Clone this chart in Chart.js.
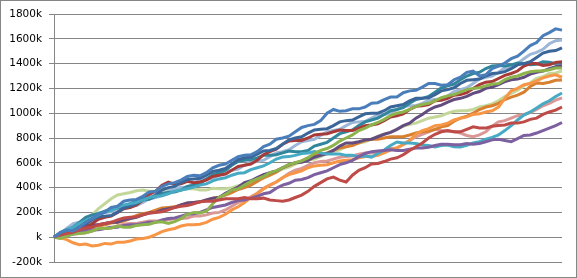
<!DOCTYPE html>
<html><head><meta charset="utf-8">
<script src="https://cdn.jsdelivr.net/npm/chart.js@4/dist/chart.umd.min.js"></script>
<style>html,body{margin:0;padding:0;background:#fff}#wrap{width:577px;height:278px;position:relative}</style>
</head><body><div id="wrap"><canvas id="c"></canvas></div>
<script>
const steps = Array.from({length:81},(_,i)=>String(i));
const yTicks = [-200,0,200,400,600,800,1000,1200,1400,1600,1800];
const blue = [0,35, 55,50, 80,120, 150,185, 200,240, 250,290, 300,305, 330,365, 370,410, 430,440,
 460,490, 500,495, 520,560, 580,590, 620,650, 660,665, 690,730, 750,790, 800,815, 850,885,
 900,910, 940,1000, 1030,1015, 1020,1035, 1035,1050, 1080,1085, 1110,1130, 1130,1165, 1180,1185, 1210,1240,
 1240,1225, 1230,1270, 1290,1330, 1340,1300, 1310,1360, 1380,1405, 1440,1460, 1500,1545, 1570,1625, 1650,1680, 1670];
const lightBlue = [0,30, 70,110, 120,135, 170,195, 200,205, 225,250, 250,255, 280,310, 320,335, 370,395,
 400,405, 430,460, 470,475, 500,530, 540,550, 580,605, 610,620, 650,680, 690,705, 740,770,
 780,790, 820,850, 860,870, 900,925, 930,935, 960,985, 990,1000, 1030,1055, 1060,1060, 1080,1105,
 1110,1115, 1140,1175, 1190,1205, 1240,1275, 1290,1300, 1330,1365, 1380,1400, 1440,1475, 1490,1515, 1560,1585, 1590];
const darkBlue = [0,10, 40,75, 90,105, 140,165, 170,175, 200,235, 250,270, 310,315, 340,380, 400,410,
 440,465, 470,475, 500,530, 540,555, 590,625, 640,645, 670,695, 700,715, 750,785, 800,810,
 840,865, 870,875, 900,930, 940,945, 970,995, 1000,1000, 1020,1050, 1060,1070, 1100,1120, 1120,1125,
 1150,1180, 1190,1205, 1240,1265, 1270,1275, 1300,1320, 1325,1335, 1360,1390, 1400,1415, 1450,1485, 1500,1505, 1527];
const darkRed = [0,-5, 20,50, 60,75, 110,145, 160,170, 200,230, 240,260, 300,345, 370,420, 445,425,
 430,450, 440,445, 460,490, 500,510, 540,570, 580,590, 620,665, 690,710, 750,775, 780,780,
 800,825, 830,835, 850,865, 860,860, 880,900, 905,915, 940,970, 980,995, 1030,1055, 1060,1070,
 1100,1105, 1120,1145, 1150,1165, 1200,1230, 1250,1255, 1280,1305, 1320,1340, 1380,1400, 1400,1385, 1390,1410, 1414];
const teal = [0,40, 60,80, 120,160, 180,190, 210,230, 235,245, 270,295, 300,305, 330,355, 360,365,
 380,410, 420,435, 470,505, 520,540, 580,610, 620,625, 640,660, 660,665, 680,695, 690,690,
 700,735, 750,765, 800,835, 850,865, 900,930, 945,960, 990,1020, 1030,1045, 1080,1110, 1120,1135,
 1170,1205, 1220,1235, 1270,1300, 1320,1330, 1360,1380, 1385,1380, 1390,1405, 1400,1390, 1395,1415, 1410,1400, 1406];
const green = [0,-10, 10,25, 30,35, 50,70, 70,75, 90,80, 80,95, 100,105, 120,125, 110,125,
 150,185, 200,195, 210,270, 320,345, 380,390, 420,450, 470,490, 520,535, 560,585, 600,615,
 640,675, 700,715, 740,775, 800,825, 860,880, 905,925, 950,980, 1000,1010, 1030,1055, 1070,1080,
 1100,1125, 1140,1150, 1170,1190, 1200,1205, 1220,1235, 1240,1270, 1290,1300, 1320,1335, 1340,1340, 1350,1365, 1365];
const lightGreen = [0,15, 40,80, 110,150, 180,230, 270,310, 340,350, 360,375, 380,370, 370,385, 390,380,
 380,390, 390,380, 380,395, 390,390, 400,415, 420,435, 460,475, 500,530, 550,565, 590,610,
 620,630, 650,675, 690,705, 730,750, 760,770, 790,815, 830,845, 870,895, 910,920, 940,960,
 970,980, 1000,1015, 1020,1020, 1030,1050, 1060,1075, 1100,1135, 1160,1185, 1220,1245, 1280,1295, 1320,1325, 1340];
const orange = [0,-5, -20,-45, -60,-55, -70,-65, -50,-55, -40,-40, -30,-15, -10,0, 20,45, 60,70,
 90,100, 100,105, 120,145, 160,185, 220,245, 280,320, 350,390, 420,445, 480,505, 520,535,
 560,575, 580,585, 600,615, 620,625, 640,650, 650,660, 680,705, 720,745, 780,830, 860,875,
 900,905, 920,945, 960,970, 990,995, 1010,1020, 1050,1120, 1180,1200, 1230,1240, 1260,1285, 1300,1310, 1290];
const darkOrange = [0,20, 30,40, 60,80, 90,90, 100,115, 120,130, 150,175, 190,200, 218,235, 240,245,
 260,275, 280,285, 300,315, 323,340, 360,385, 400,420, 450,480, 500,525, 560,580, 600,615,
 640,660, 670,680, 700,720, 730,740, 760,780, 790,790, 800,810, 810,810, 824,840, 850,855,
 870,890, 900,935, 960,975, 1000,1030, 1050,1060, 1080,1110, 1130,1145, 1170,1215, 1244,1240, 1250,1265, 1268];
const aqua = [0,35, 60,80, 110,135, 150,180, 200,215, 240,260, 270,280, 300,320, 330,335, 350,370,
 380,390, 404,420, 430,455, 470,480, 500,515, 520,545, 560,575, 600,630, 646,650, 660,675,
 679,690, 680,670, 670,670, 660,660, 650,655, 646,675, 703,740, 768,760, 760,755, 743,740,
 727,740, 743,730, 727,740, 760,770, 790,805, 824,860, 900,945, 985,1010, 1042,1075, 1100,1135, 1163];
const pink = [0,0, 10,25, 30,35, 50,65, 70,75, 90,105, 110,110, 120,130, 130,130, 140,150,
 150,155, 170,170, 180,195, 200,220, 250,280, 300,325, 355,395, 420,445, 480,515, 540,555,
 580,600, 610,615, 630,645, 650,655, 670,680, 680,685, 700,715, 720,750, 780,810, 830,850,
 870,860, 855,850, 840,820, 810,825, 850,895, 930,940, 960,980, 990,1005, 1030,1060, 1080,1105, 1123];
const red = [0,20, 30,40, 60,75, 80,100, 110,120, 140,155, 160,165, 180,195, 200,205, 220,240,
 250,255, 270,285, 290,290, 300,310, 310,310, 320,310, 310,315, 300,295, 290,300, 320,340,
 370,410, 440,470, 485,460, 445,500, 540,560, 590,595, 610,630, 640,665, 700,730, 760,800,
 830,850, 860,850, 850,870, 890,880, 880,895, 900,905, 920,920, 930,950, 960,990, 1010,1025, 1050];
const purple = [0,15, 20,25, 40,55, 60,60, 70,80, 80,95, 100,100, 110,120, 120,140, 150,155,
 170,185, 190,200, 220,240, 250,260, 280,295, 300,315, 330,350, 360,395, 420,435, 460,465,
 480,505, 520,535, 560,585, 600,620, 650,675, 690,695, 700,705, 700,700, 710,720, 720,725,
 740,750, 750,745, 745,755, 750,755, 770,785, 790,780, 770,795, 820,825, 840,860, 880,900, 925];
const darkPurple = [0,25, 40,50, 70,90, 100,100, 110,120, 120,140, 150,160, 180,195, 200,220, 230,240,
 260,275, 280,285, 300,315, 320,355, 380,405, 440,455, 480,505, 520,535, 560,585, 600,605,
 620,645, 660,675, 700,735, 760,760, 770,785, 790,810, 830,845, 870,900, 920,960, 990,1025,
 1050,1065, 1090,1110, 1120,1135, 1160,1175, 1200,1210, 1230,1255, 1270,1275, 1290,1315, 1330,1340, 1360,1375, 1385];

const series = [
  [blue,'#4A7EBB'],[red,'#BE4B48'],[green,'#8DB34D'],[purple,'#7D60A0'],[aqua,'#46AAC5'],[orange,'#F79646'],
  [darkBlue,'#3A6699'],[darkRed,'#A83B38'],[darkPurple,'#634C80'],[teal,'#31869B'],[darkOrange,'#D9802F'],
  [lightBlue,'#9DB7D9'],[pink,'#D99896'],[lightGreen,'#C4D79B']
];
const datasets = series.map(([d,c],i)=>({label:'S'+(i+1),data:d,borderColor:c,backgroundColor:c,borderWidth:3,pointRadius:0,tension:0,fill:false}));

const frame = {id:'frame',afterDraw(ch){const g=ch.ctx;g.save();g.strokeStyle='#868686';g.lineWidth=1;g.strokeRect(0.5,0.5,576,277);g.restore();}};

new Chart(document.getElementById('c'),{
  type:'line',
  data:{labels:steps,datasets},
  options:{
    responsive:true,maintainAspectRatio:false,animation:false,
    layout:{padding:{left:0,top:14,right:15,bottom:16}},
    plugins:{legend:{display:false},tooltip:{enabled:false}},
    scales:{
      x:{display:false,offset:false},
      y:{min:-200,max:1800,
        afterFit(s){s.width=54;},
        afterBuildTicks(s){s.ticks=yTicks.map(v=>({value:v}));},
        border:{display:true,color:'#868686',width:1},
        grid:{color:'#868686',lineWidth:1,tickLength:5,drawTicks:true},
        ticks:{padding:7,color:'#000',font:{family:'DejaVu Sans',size:10.5},callback:v=>(v===0?'':v)+'k'}
      }
    }
  },
  plugins:[frame]
});
</script></body></html>
